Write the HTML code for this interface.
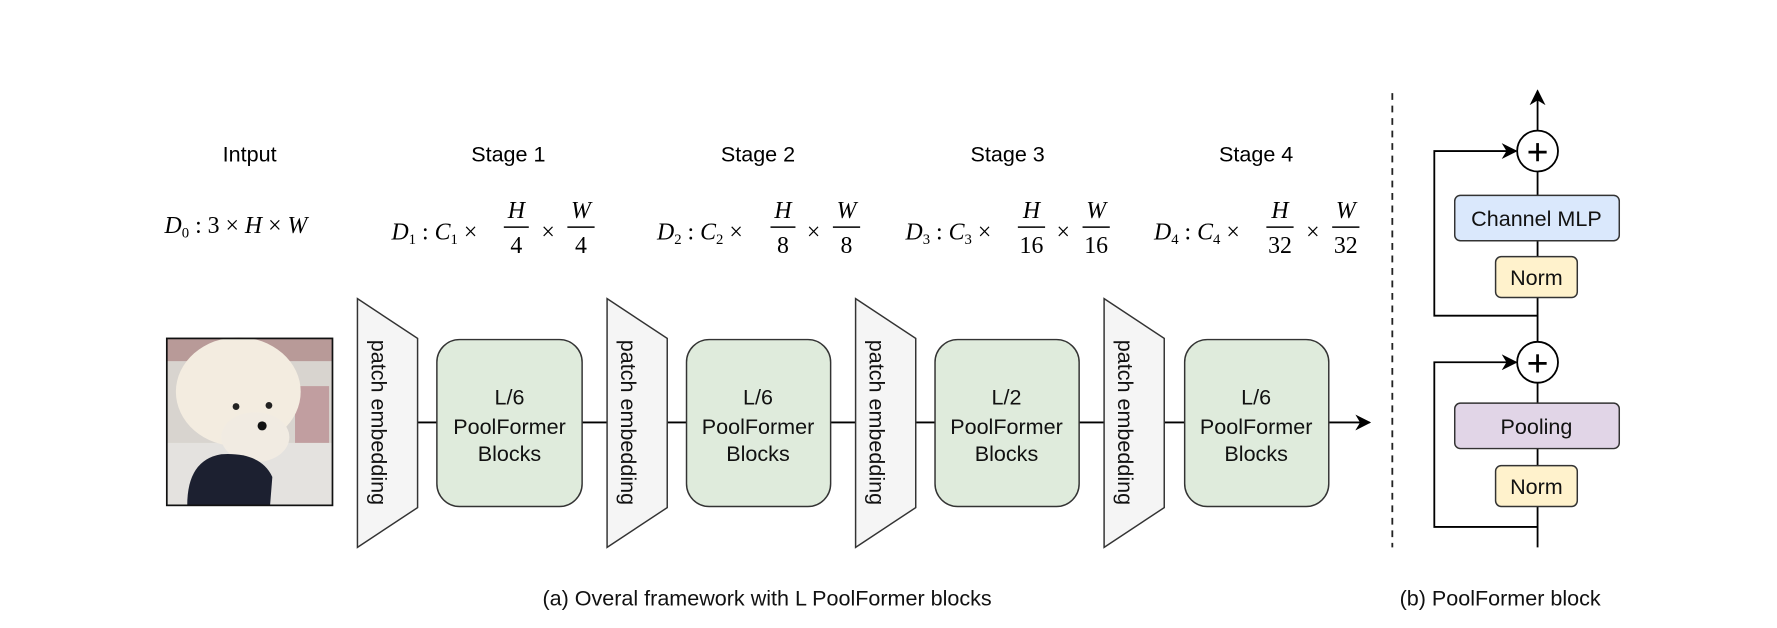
<!DOCTYPE html>
<html><head><meta charset="utf-8"><style>html,body{margin:0;padding:0;background:#fff}svg{display:block}</style></head>
<body>
<svg width="1777" height="628" viewBox="0 0 1566 553" preserveAspectRatio="none" xmlns="http://www.w3.org/2000/svg">
<defs>
<marker id="ar" viewBox="0 0 10 10" refX="9" refY="5" markerWidth="14" markerHeight="14" orient="auto" markerUnits="userSpaceOnUse"><path d="M0,0 L10,5 L0,10 L3,5z" fill="#000"/></marker>
</defs>
<rect width="1566" height="553" fill="#fff"/>
<g font-family="Liberation Sans, sans-serif" font-size="19" text-anchor="middle" fill="#000">
<text x="220" y="142">Intput</text>
<text x="448" y="142">Stage 1</text>
<text x="668" y="142">Stage 2</text>
<text x="888" y="142">Stage 3</text>
<text x="1107" y="142">Stage 4</text>
</g>
<g font-family="Liberation Serif, serif" font-size="21" fill="#000">
<text x="145" y="205"><tspan font-style="italic">D</tspan><tspan font-size="13" dy="4">0</tspan><tspan dy="-4"> : 3 × </tspan><tspan font-style="italic">H</tspan> × <tspan font-style="italic">W</tspan></text>
<text x="345" y="211"><tspan font-style="italic">D</tspan><tspan font-size="13" dy="4">1</tspan><tspan dy="-4"> : </tspan><tspan font-style="italic">C</tspan><tspan font-size="13" dy="4">1</tspan><tspan dy="-4"> ×</tspan></text>
<text x="455" y="192" text-anchor="middle" font-style="italic">H</text><line x1="444" y1="200" x2="466" y2="200" stroke="#000" stroke-width="1.3"/><text x="455" y="223" text-anchor="middle">4</text>
<text x="483" y="211" text-anchor="middle">×</text>
<text x="512" y="192" text-anchor="middle" font-style="italic">W</text><line x1="500" y1="200" x2="524" y2="200" stroke="#000" stroke-width="1.3"/><text x="512" y="223" text-anchor="middle">4</text>
<text x="579" y="211"><tspan font-style="italic">D</tspan><tspan font-size="13" dy="4">2</tspan><tspan dy="-4"> : </tspan><tspan font-style="italic">C</tspan><tspan font-size="13" dy="4">2</tspan><tspan dy="-4"> ×</tspan></text>
<text x="690" y="192" text-anchor="middle" font-style="italic">H</text><line x1="679" y1="200" x2="701" y2="200" stroke="#000" stroke-width="1.3"/><text x="690" y="223" text-anchor="middle">8</text>
<text x="717" y="211" text-anchor="middle">×</text>
<text x="746" y="192" text-anchor="middle" font-style="italic">W</text><line x1="734" y1="200" x2="758" y2="200" stroke="#000" stroke-width="1.3"/><text x="746" y="223" text-anchor="middle">8</text>
<text x="798" y="211"><tspan font-style="italic">D</tspan><tspan font-size="13" dy="4">3</tspan><tspan dy="-4"> : </tspan><tspan font-style="italic">C</tspan><tspan font-size="13" dy="4">3</tspan><tspan dy="-4"> ×</tspan></text>
<text x="909" y="192" text-anchor="middle" font-style="italic">H</text><line x1="897" y1="200" x2="921" y2="200" stroke="#000" stroke-width="1.3"/><text x="909" y="223" text-anchor="middle">16</text>
<text x="937" y="211" text-anchor="middle">×</text>
<text x="966" y="192" text-anchor="middle" font-style="italic">W</text><line x1="954" y1="200" x2="978" y2="200" stroke="#000" stroke-width="1.3"/><text x="966" y="223" text-anchor="middle">16</text>
<text x="1017" y="211"><tspan font-style="italic">D</tspan><tspan font-size="13" dy="4">4</tspan><tspan dy="-4"> : </tspan><tspan font-style="italic">C</tspan><tspan font-size="13" dy="4">4</tspan><tspan dy="-4"> ×</tspan></text>
<text x="1128" y="192" text-anchor="middle" font-style="italic">H</text><line x1="1116" y1="200" x2="1140" y2="200" stroke="#000" stroke-width="1.3"/><text x="1128" y="223" text-anchor="middle">32</text>
<text x="1157" y="211" text-anchor="middle">×</text>
<text x="1186" y="192" text-anchor="middle" font-style="italic">W</text><line x1="1174" y1="200" x2="1198" y2="200" stroke="#000" stroke-width="1.3"/><text x="1186" y="223" text-anchor="middle">32</text>
</g>
<line x1="368" y1="372" x2="1207" y2="372" stroke="#000" stroke-width="1.6" marker-end="url(#ar)"/>
<g>
<rect x="147" y="298" width="146" height="147" fill="#d8d4cf"/>
<rect x="147" y="298" width="146" height="20" fill="#b89a98"/>
<rect x="260" y="340" width="30" height="60" fill="#b37a80" opacity="0.6"/>
<rect x="147" y="390" width="146" height="55" fill="#e4e2df"/>
<ellipse cx="210" cy="345" rx="55" ry="48" fill="#f3ece0"/>
<ellipse cx="225" cy="385" rx="30" ry="22" fill="#f1ebe2"/>
<path d="M165 445 Q165 405 195 400 Q230 398 240 420 L238 445 Z" fill="#1c2030"/>
<circle cx="231" cy="375" r="4" fill="#111"/>
<circle cx="208" cy="358" r="3" fill="#222"/>
<circle cx="237" cy="357" r="3" fill="#222"/>
<rect x="147" y="298" width="146" height="147" fill="none" stroke="#111" stroke-width="1.5"/>
</g>
<g fill="#f5f5f5" stroke="#333" stroke-width="1.3">
<path d="M315 263 L368 298 L368 447 L315 482 Z"/>
<path d="M535 263 L588 298 L588 447 L535 482 Z"/>
<path d="M754 263 L807 298 L807 447 L754 482 Z"/>
<path d="M973 263 L1026 298 L1026 447 L973 482 Z"/>
</g>
<g font-family="Liberation Sans, sans-serif" font-size="19" fill="#111" text-anchor="middle">
<text transform="translate(334,372) rotate(90)" dominant-baseline="central">patch embedding</text>
<text transform="translate(554,372) rotate(90)" dominant-baseline="central">patch embedding</text>
<text transform="translate(773,372) rotate(90)" dominant-baseline="central">patch embedding</text>
<text transform="translate(992,372) rotate(90)" dominant-baseline="central">patch embedding</text>
</g>
<g fill="#dfebdc" stroke="#333" stroke-width="1.3">
<rect x="385" y="299" width="128" height="147" rx="20"/>
<rect x="605" y="299" width="127" height="147" rx="20"/>
<rect x="824" y="299" width="127" height="147" rx="20"/>
<rect x="1044" y="299" width="127" height="147" rx="20"/>
</g>
<g font-family="Liberation Sans, sans-serif" font-size="19" fill="#111" text-anchor="middle">
<text x="449" y="356">L/6</text><text x="449" y="382">PoolFormer</text><text x="449" y="406">Blocks</text>
<text x="668" y="356">L/6</text><text x="668" y="382">PoolFormer</text><text x="668" y="406">Blocks</text>
<text x="887" y="356">L/2</text><text x="887" y="382">PoolFormer</text><text x="887" y="406">Blocks</text>
<text x="1107" y="356">L/6</text><text x="1107" y="382">PoolFormer</text><text x="1107" y="406">Blocks</text>
</g>
<line x1="1227" y1="82" x2="1227" y2="482" stroke="#222" stroke-width="1.6" stroke-dasharray="6,5"/>
<g stroke="#000" stroke-width="1.6" fill="none">
<line x1="1355" y1="482" x2="1355" y2="337"/>
<line x1="1355" y1="301" x2="1355" y2="151"/>
<line x1="1355" y1="115" x2="1355" y2="80" marker-end="url(#ar)"/>
<path d="M1355 464 L1264 464 L1264 319 L1336 319" marker-end="url(#ar)"/>
<path d="M1355 278 L1264 278 L1264 133 L1336 133" marker-end="url(#ar)"/>
</g>
<g stroke="#000" stroke-width="1.6" fill="#fff">
<circle cx="1355" cy="133" r="18"/>
<circle cx="1355" cy="319" r="18"/>
</g>
<g stroke="#000" stroke-width="2.4">
<line x1="1347" y1="134" x2="1363" y2="134"/><line x1="1355" y1="126" x2="1355" y2="142"/>
<line x1="1347" y1="320" x2="1363" y2="320"/><line x1="1355" y1="312" x2="1355" y2="328"/>
</g>
<g stroke="#333" stroke-width="1.3">
<rect x="1282" y="172" width="145" height="40" rx="5" fill="#dae8fc"/>
<rect x="1318" y="226" width="72" height="36" rx="5" fill="#fff2cc"/>
<rect x="1282" y="355" width="145" height="40" rx="5" fill="#e1d5e7"/>
<rect x="1318" y="410" width="72" height="36" rx="5" fill="#fff2cc"/>
</g>
<g font-family="Liberation Sans, sans-serif" font-size="19" fill="#111" text-anchor="middle">
<text x="1354" y="199">Channel MLP</text>
<text x="1354" y="251">Norm</text>
<text x="1354" y="382">Pooling</text>
<text x="1354" y="435">Norm</text>
<text x="676" y="533">(a) Overal framework with L PoolFormer blocks</text>
<text x="1322" y="533">(b) PoolFormer block</text>
</g>
</svg>
</body></html>
